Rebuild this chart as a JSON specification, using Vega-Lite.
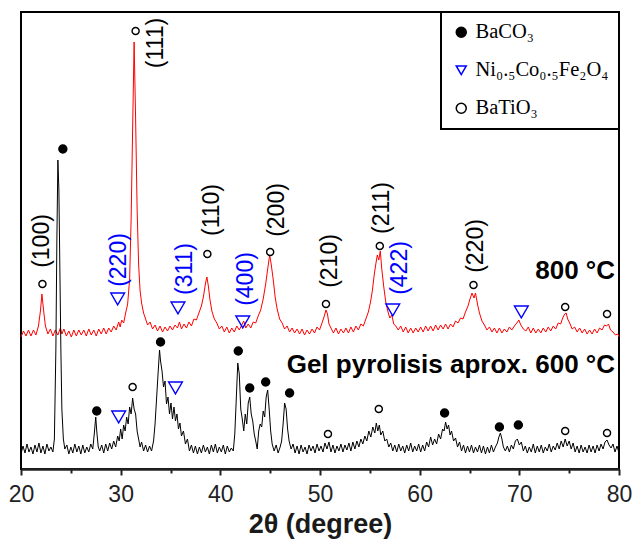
{
  "$schema": "https://vega.github.io/schema/vega-lite/v6.json",
  "width": 598,
  "height": 457,
  "autosize": {"type": "none"},
  "padding": {"left": 21, "top": 12, "right": 14, "bottom": 71},
  "background": "white",
  "config": {
    "view": {"stroke": "black", "strokeWidth": 2},
    "font": "Liberation Sans",
    "legend": {
      "orient": "top-right", "offset": 0, "padding": 10,
      "strokeColor": "black", "strokeWidth": 2, "fillColor": "white",
      "labelFont": "Liberation Serif", "labelFontSize": 20.5, "labelColor": "black",
      "rowPadding": 17, "labelOffset": 4, "symbolStrokeWidth": 1.5, "labelLimit": 300, "symbolSize": 100
    }
  },
  "datasets": {
    "red": [
      {"t":20.0,"i":132},{"t":20.25,"i":138},{"t":20.5,"i":133},{"t":20.75,"i":139},{"t":21.0,"i":133},{"t":21.25,"i":139},{"t":21.5,"i":134},{"t":21.75,"i":143},{"t":21.95,"i":158},{"t":22.1,"i":175},{"t":22.25,"i":160},{"t":22.45,"i":143},{"t":22.7,"i":135},{"t":22.95,"i":140},{"t":23.2,"i":133},{"t":23.45,"i":139},{"t":23.7,"i":134},{"t":23.95,"i":141},{"t":24.1,"i":135},{"t":24.3,"i":140},{"t":24.55,"i":133},{"t":24.8,"i":138},{"t":25.05,"i":132},{"t":25.3,"i":139},{"t":25.55,"i":133},{"t":25.8,"i":139},{"t":26.05,"i":134},{"t":26.3,"i":139},{"t":26.55,"i":133},{"t":26.8,"i":140},{"t":27.05,"i":134},{"t":27.3,"i":139},{"t":27.55,"i":133},{"t":27.8,"i":140},{"t":28.05,"i":135},{"t":28.3,"i":141},{"t":28.55,"i":135},{"t":28.8,"i":141},{"t":29.05,"i":137},{"t":29.3,"i":143},{"t":29.55,"i":139},{"t":29.8,"i":147},{"t":29.95,"i":142},{"t":30.1,"i":149},{"t":30.3,"i":146},{"t":30.5,"i":156},{"t":30.7,"i":165},{"t":30.9,"i":190},{"t":31.05,"i":250},{"t":31.2,"i":340},{"t":31.35,"i":427},{"t":31.5,"i":350},{"t":31.65,"i":260},{"t":31.8,"i":205},{"t":31.95,"i":178},{"t":32.1,"i":166},{"t":32.3,"i":156},{"t":32.5,"i":150},{"t":32.7,"i":144},{"t":32.95,"i":147},{"t":33.2,"i":140},{"t":33.45,"i":144},{"t":33.7,"i":138},{"t":33.95,"i":143},{"t":34.2,"i":137},{"t":34.45,"i":142},{"t":34.7,"i":138},{"t":34.95,"i":143},{"t":35.2,"i":139},{"t":35.45,"i":144},{"t":35.7,"i":141},{"t":35.9,"i":147},{"t":36.1,"i":140},{"t":36.35,"i":145},{"t":36.6,"i":141},{"t":36.85,"i":147},{"t":37.1,"i":143},{"t":37.35,"i":150},{"t":37.6,"i":149},{"t":37.85,"i":156},{"t":38.1,"i":163},{"t":38.3,"i":172},{"t":38.5,"i":185},{"t":38.65,"i":192},{"t":38.8,"i":183},{"t":38.95,"i":170},{"t":39.15,"i":158},{"t":39.4,"i":150},{"t":39.65,"i":146},{"t":39.9,"i":140},{"t":40.15,"i":143},{"t":40.4,"i":137},{"t":40.65,"i":142},{"t":40.9,"i":136},{"t":41.15,"i":141},{"t":41.4,"i":137},{"t":41.65,"i":143},{"t":41.9,"i":139},{"t":42.15,"i":144},{"t":42.35,"i":148},{"t":42.55,"i":141},{"t":42.8,"i":145},{"t":43.05,"i":141},{"t":43.3,"i":147},{"t":43.55,"i":146},{"t":43.8,"i":153},{"t":44.05,"i":159},{"t":44.3,"i":170},{"t":44.55,"i":185},{"t":44.75,"i":200},{"t":44.95,"i":214},{"t":45.1,"i":205},{"t":45.3,"i":190},{"t":45.5,"i":172},{"t":45.7,"i":160},{"t":45.95,"i":150},{"t":46.2,"i":146},{"t":46.45,"i":140},{"t":46.7,"i":143},{"t":46.95,"i":137},{"t":47.2,"i":141},{"t":47.45,"i":136},{"t":47.7,"i":140},{"t":47.95,"i":135},{"t":48.2,"i":140},{"t":48.45,"i":134},{"t":48.7,"i":139},{"t":48.95,"i":135},{"t":49.2,"i":140},{"t":49.45,"i":136},{"t":49.7,"i":142},{"t":49.95,"i":139},{"t":50.2,"i":146},{"t":50.4,"i":152},{"t":50.6,"i":159},{"t":50.75,"i":155},{"t":50.9,"i":145},{"t":51.1,"i":141},{"t":51.35,"i":136},{"t":51.6,"i":141},{"t":51.85,"i":135},{"t":52.1,"i":140},{"t":52.35,"i":136},{"t":52.6,"i":141},{"t":52.85,"i":136},{"t":53.1,"i":142},{"t":53.35,"i":137},{"t":53.6,"i":143},{"t":53.85,"i":139},{"t":54.1,"i":145},{"t":54.35,"i":143},{"t":54.6,"i":150},{"t":54.85,"i":157},{"t":55.05,"i":166},{"t":55.25,"i":178},{"t":55.45,"i":195},{"t":55.6,"i":205},{"t":55.75,"i":214},{"t":55.9,"i":209},{"t":56.05,"i":218},{"t":56.2,"i":200},{"t":56.4,"i":182},{"t":56.6,"i":167},{"t":56.8,"i":158},{"t":57.0,"i":151},{"t":57.2,"i":154},{"t":57.4,"i":145},{"t":57.6,"i":143},{"t":57.85,"i":139},{"t":58.1,"i":143},{"t":58.35,"i":137},{"t":58.6,"i":142},{"t":58.85,"i":136},{"t":59.1,"i":141},{"t":59.35,"i":136},{"t":59.6,"i":141},{"t":59.85,"i":137},{"t":60.1,"i":142},{"t":60.35,"i":137},{"t":60.6,"i":143},{"t":60.85,"i":138},{"t":61.1,"i":143},{"t":61.35,"i":138},{"t":61.6,"i":144},{"t":61.85,"i":139},{"t":62.1,"i":144},{"t":62.35,"i":140},{"t":62.6,"i":145},{"t":62.85,"i":140},{"t":63.1,"i":145},{"t":63.35,"i":142},{"t":63.6,"i":148},{"t":63.85,"i":146},{"t":64.1,"i":151},{"t":64.35,"i":150},{"t":64.6,"i":157},{"t":64.85,"i":163},{"t":65.05,"i":170},{"t":65.25,"i":176},{"t":65.45,"i":171},{"t":65.6,"i":176},{"t":65.8,"i":165},{"t":66.0,"i":156},{"t":66.25,"i":148},{"t":66.5,"i":144},{"t":66.75,"i":139},{"t":67.0,"i":142},{"t":67.25,"i":137},{"t":67.5,"i":141},{"t":67.75,"i":136},{"t":68.0,"i":141},{"t":68.25,"i":136},{"t":68.5,"i":140},{"t":68.75,"i":137},{"t":69.0,"i":142},{"t":69.25,"i":139},{"t":69.5,"i":143},{"t":69.75,"i":146},{"t":69.95,"i":149},{"t":70.15,"i":144},{"t":70.4,"i":140},{"t":70.65,"i":138},{"t":70.9,"i":142},{"t":71.15,"i":136},{"t":71.4,"i":141},{"t":71.65,"i":136},{"t":71.9,"i":140},{"t":72.15,"i":136},{"t":72.4,"i":141},{"t":72.65,"i":137},{"t":72.9,"i":142},{"t":73.15,"i":138},{"t":73.4,"i":143},{"t":73.65,"i":140},{"t":73.9,"i":146},{"t":74.15,"i":145},{"t":74.35,"i":151},{"t":74.55,"i":155},{"t":74.7,"i":156},{"t":74.85,"i":150},{"t":75.05,"i":146},{"t":75.3,"i":140},{"t":75.55,"i":142},{"t":75.8,"i":137},{"t":76.05,"i":141},{"t":76.3,"i":136},{"t":76.55,"i":140},{"t":76.8,"i":135},{"t":77.05,"i":139},{"t":77.3,"i":135},{"t":77.55,"i":140},{"t":77.8,"i":136},{"t":78.05,"i":141},{"t":78.3,"i":139},{"t":78.55,"i":144},{"t":78.75,"i":143},{"t":78.95,"i":145},{"t":79.15,"i":139},{"t":79.4,"i":137},{"t":79.65,"i":134},{"t":79.9,"i":135},{"t":80.0,"i":132}
    ],
    "black": [
      {"t":20.0,"i":15},{"t":20.2,"i":23},{"t":20.4,"i":16},{"t":20.6,"i":25},{"t":20.8,"i":17},{"t":21.0,"i":22},{"t":21.2,"i":15},{"t":21.4,"i":24},{"t":21.6,"i":17},{"t":21.8,"i":26},{"t":22.0,"i":16},{"t":22.2,"i":23},{"t":22.4,"i":15},{"t":22.6,"i":25},{"t":22.8,"i":18},{"t":23.0,"i":22},{"t":23.2,"i":17},{"t":23.35,"i":30},{"t":23.5,"i":120},{"t":23.6,"i":230},{"t":23.7,"i":309},{"t":23.8,"i":280},{"t":23.9,"i":200},{"t":24.0,"i":120},{"t":24.1,"i":60},{"t":24.25,"i":30},{"t":24.4,"i":20},{"t":24.6,"i":24},{"t":24.8,"i":15},{"t":25.0,"i":22},{"t":25.2,"i":16},{"t":25.4,"i":25},{"t":25.6,"i":17},{"t":25.8,"i":23},{"t":26.0,"i":15},{"t":26.2,"i":24},{"t":26.4,"i":16},{"t":26.6,"i":22},{"t":26.8,"i":17},{"t":27.0,"i":25},{"t":27.2,"i":20},{"t":27.35,"i":35},{"t":27.5,"i":52},{"t":27.6,"i":38},{"t":27.75,"i":22},{"t":27.9,"i":18},{"t":28.1,"i":24},{"t":28.3,"i":16},{"t":28.5,"i":25},{"t":28.7,"i":18},{"t":28.9,"i":26},{"t":29.1,"i":20},{"t":29.3,"i":28},{"t":29.5,"i":22},{"t":29.7,"i":33},{"t":29.85,"i":28},{"t":30.0,"i":40},{"t":30.15,"i":30},{"t":30.3,"i":44},{"t":30.45,"i":38},{"t":30.6,"i":52},{"t":30.75,"i":45},{"t":30.9,"i":62},{"t":31.05,"i":55},{"t":31.2,"i":71},{"t":31.35,"i":60},{"t":31.5,"i":55},{"t":31.65,"i":38},{"t":31.8,"i":30},{"t":31.95,"i":22},{"t":32.1,"i":27},{"t":32.3,"i":18},{"t":32.5,"i":24},{"t":32.7,"i":17},{"t":32.9,"i":23},{"t":33.1,"i":18},{"t":33.3,"i":28},{"t":33.45,"i":45},{"t":33.6,"i":70},{"t":33.75,"i":95},{"t":33.9,"i":119},{"t":34.0,"i":108},{"t":34.15,"i":98},{"t":34.3,"i":82},{"t":34.45,"i":88},{"t":34.6,"i":65},{"t":34.75,"i":72},{"t":34.9,"i":55},{"t":35.05,"i":66},{"t":35.2,"i":50},{"t":35.35,"i":62},{"t":35.5,"i":48},{"t":35.65,"i":55},{"t":35.8,"i":40},{"t":35.95,"i":46},{"t":36.1,"i":33},{"t":36.3,"i":38},{"t":36.5,"i":25},{"t":36.7,"i":30},{"t":36.9,"i":18},{"t":37.1,"i":24},{"t":37.3,"i":16},{"t":37.5,"i":23},{"t":37.7,"i":15},{"t":37.9,"i":22},{"t":38.1,"i":16},{"t":38.3,"i":24},{"t":38.5,"i":17},{"t":38.7,"i":22},{"t":38.9,"i":15},{"t":39.1,"i":24},{"t":39.3,"i":17},{"t":39.5,"i":25},{"t":39.7,"i":16},{"t":39.9,"i":22},{"t":40.1,"i":17},{"t":40.3,"i":24},{"t":40.5,"i":15},{"t":40.7,"i":23},{"t":40.9,"i":17},{"t":41.1,"i":21},{"t":41.3,"i":18},{"t":41.45,"i":35},{"t":41.6,"i":70},{"t":41.75,"i":106},{"t":41.9,"i":95},{"t":42.05,"i":60},{"t":42.2,"i":50},{"t":42.35,"i":38},{"t":42.5,"i":55},{"t":42.65,"i":45},{"t":42.8,"i":66},{"t":42.95,"i":72},{"t":43.1,"i":55},{"t":43.25,"i":48},{"t":43.4,"i":35},{"t":43.55,"i":28},{"t":43.7,"i":20},{"t":43.85,"i":38},{"t":44.0,"i":45},{"t":44.15,"i":42},{"t":44.3,"i":58},{"t":44.45,"i":52},{"t":44.6,"i":72},{"t":44.75,"i":79},{"t":44.9,"i":60},{"t":45.05,"i":38},{"t":45.2,"i":25},{"t":45.4,"i":18},{"t":45.6,"i":24},{"t":45.8,"i":16},{"t":46.0,"i":22},{"t":46.15,"i":28},{"t":46.3,"i":45},{"t":46.45,"i":66},{"t":46.6,"i":60},{"t":46.75,"i":40},{"t":46.9,"i":28},{"t":47.1,"i":20},{"t":47.3,"i":25},{"t":47.5,"i":16},{"t":47.7,"i":23},{"t":47.9,"i":15},{"t":48.1,"i":24},{"t":48.3,"i":17},{"t":48.5,"i":22},{"t":48.7,"i":15},{"t":48.9,"i":24},{"t":49.1,"i":18},{"t":49.3,"i":23},{"t":49.5,"i":16},{"t":49.7,"i":25},{"t":49.9,"i":18},{"t":50.1,"i":23},{"t":50.3,"i":17},{"t":50.5,"i":26},{"t":50.7,"i":20},{"t":50.9,"i":27},{"t":51.1,"i":17},{"t":51.3,"i":24},{"t":51.5,"i":16},{"t":51.7,"i":23},{"t":51.9,"i":18},{"t":52.1,"i":25},{"t":52.3,"i":17},{"t":52.5,"i":24},{"t":52.7,"i":19},{"t":52.9,"i":26},{"t":53.1,"i":18},{"t":53.3,"i":27},{"t":53.5,"i":20},{"t":53.7,"i":28},{"t":53.9,"i":22},{"t":54.1,"i":30},{"t":54.3,"i":25},{"t":54.5,"i":33},{"t":54.7,"i":28},{"t":54.9,"i":38},{"t":55.1,"i":32},{"t":55.3,"i":42},{"t":55.5,"i":36},{"t":55.65,"i":46},{"t":55.8,"i":38},{"t":55.95,"i":44},{"t":56.1,"i":34},{"t":56.3,"i":38},{"t":56.5,"i":28},{"t":56.7,"i":30},{"t":56.9,"i":22},{"t":57.1,"i":26},{"t":57.3,"i":18},{"t":57.5,"i":24},{"t":57.7,"i":17},{"t":57.9,"i":25},{"t":58.1,"i":18},{"t":58.3,"i":23},{"t":58.5,"i":16},{"t":58.7,"i":24},{"t":58.9,"i":18},{"t":59.1,"i":26},{"t":59.3,"i":17},{"t":59.5,"i":23},{"t":59.7,"i":18},{"t":59.9,"i":25},{"t":60.1,"i":17},{"t":60.3,"i":24},{"t":60.5,"i":18},{"t":60.7,"i":27},{"t":60.9,"i":22},{"t":61.1,"i":32},{"t":61.3,"i":24},{"t":61.5,"i":30},{"t":61.7,"i":25},{"t":61.9,"i":35},{"t":62.1,"i":30},{"t":62.3,"i":40},{"t":62.45,"i":38},{"t":62.6,"i":47},{"t":62.75,"i":40},{"t":62.9,"i":44},{"t":63.05,"i":34},{"t":63.2,"i":38},{"t":63.4,"i":28},{"t":63.6,"i":31},{"t":63.8,"i":22},{"t":64.0,"i":27},{"t":64.2,"i":18},{"t":64.4,"i":24},{"t":64.6,"i":16},{"t":64.8,"i":23},{"t":65.0,"i":17},{"t":65.2,"i":24},{"t":65.4,"i":16},{"t":65.6,"i":22},{"t":65.8,"i":17},{"t":66.0,"i":24},{"t":66.2,"i":16},{"t":66.4,"i":23},{"t":66.6,"i":15},{"t":66.8,"i":22},{"t":67.0,"i":16},{"t":67.2,"i":24},{"t":67.4,"i":17},{"t":67.6,"i":22},{"t":67.8,"i":26},{"t":67.95,"i":32},{"t":68.1,"i":36},{"t":68.25,"i":30},{"t":68.4,"i":22},{"t":68.6,"i":18},{"t":68.8,"i":23},{"t":69.0,"i":17},{"t":69.2,"i":24},{"t":69.4,"i":20},{"t":69.6,"i":28},{"t":69.8,"i":30},{"t":70.0,"i":24},{"t":70.2,"i":27},{"t":70.4,"i":18},{"t":70.6,"i":23},{"t":70.8,"i":16},{"t":71.0,"i":22},{"t":71.2,"i":17},{"t":71.4,"i":25},{"t":71.6,"i":16},{"t":71.8,"i":23},{"t":72.0,"i":17},{"t":72.2,"i":24},{"t":72.4,"i":16},{"t":72.6,"i":22},{"t":72.8,"i":18},{"t":73.0,"i":25},{"t":73.2,"i":17},{"t":73.4,"i":23},{"t":73.6,"i":19},{"t":73.8,"i":26},{"t":74.0,"i":20},{"t":74.2,"i":28},{"t":74.4,"i":22},{"t":74.6,"i":30},{"t":74.8,"i":23},{"t":75.0,"i":28},{"t":75.2,"i":20},{"t":75.4,"i":26},{"t":75.6,"i":17},{"t":75.8,"i":23},{"t":76.0,"i":16},{"t":76.2,"i":24},{"t":76.4,"i":17},{"t":76.6,"i":22},{"t":76.8,"i":16},{"t":77.0,"i":24},{"t":77.2,"i":17},{"t":77.4,"i":23},{"t":77.6,"i":16},{"t":77.8,"i":24},{"t":78.0,"i":18},{"t":78.2,"i":25},{"t":78.4,"i":20},{"t":78.6,"i":27},{"t":78.8,"i":29},{"t":79.0,"i":24},{"t":79.2,"i":21},{"t":79.4,"i":25},{"t":79.6,"i":17},{"t":79.8,"i":23},{"t":80.0,"i":16}
    ],
    "markers": [
      {"t":22.15,"i":185,"p":"BaTiO₃"},{"t":31.5,"i":438,"p":"BaTiO₃"},{"t":24.2,"i":320,"p":"BaCO₃"},{"t":29.7,"i":170,"p":"Ni₀.₅Co₀.₅Fe₂O₄"},{"t":35.75,"i":161,"p":"Ni₀.₅Co₀.₅Fe₂O₄"},{"t":38.7,"i":215,"p":"BaTiO₃"},{"t":42.25,"i":147,"p":"Ni₀.₅Co₀.₅Fe₂O₄"},{"t":45.0,"i":217,"p":"BaTiO₃"},{"t":50.6,"i":165,"p":"BaTiO₃"},{"t":56.0,"i":223,"p":"BaTiO₃"},{"t":57.3,"i":159,"p":"Ni₀.₅Co₀.₅Fe₂O₄"},{"t":65.4,"i":184,"p":"BaTiO₃"},{"t":70.2,"i":157,"p":"Ni₀.₅Co₀.₅Fe₂O₄"},{"t":74.6,"i":162,"p":"BaTiO₃"},{"t":78.8,"i":155,"p":"BaTiO₃"},
      {"t":27.6,"i":58,"p":"BaCO₃"},{"t":29.8,"i":52,"p":"Ni₀.₅Co₀.₅Fe₂O₄"},{"t":31.2,"i":82,"p":"BaTiO₃"},{"t":34.0,"i":127,"p":"BaCO₃"},{"t":35.5,"i":81,"p":"Ni₀.₅Co₀.₅Fe₂O₄"},{"t":41.8,"i":118,"p":"BaCO₃"},{"t":42.95,"i":81,"p":"BaCO₃"},{"t":44.55,"i":87,"p":"BaCO₃"},{"t":46.95,"i":76,"p":"BaCO₃"},{"t":50.8,"i":35,"p":"BaTiO₃"},{"t":55.9,"i":60,"p":"BaTiO₃"},{"t":62.5,"i":56,"p":"BaCO₃"},{"t":68.0,"i":42,"p":"BaCO₃"},{"t":69.9,"i":44,"p":"BaCO₃"},{"t":74.6,"i":38,"p":"BaTiO₃"},{"t":78.8,"i":36,"p":"BaTiO₃"}
    ],
    "hkl": [
      {"t":22.1,"i":228,"label":"(100)","g":"BaTiO3"},
      {"t":33.5,"i":426,"label":"(111)","g":"BaTiO3"},
      {"t":29.8,"i":209,"label":"(220)","g":"ferrite"},
      {"t":36.5,"i":200,"label":"(311)","g":"ferrite"},
      {"t":39.2,"i":259,"label":"(110)","g":"BaTiO3"},
      {"t":42.6,"i":190,"label":"(400)","g":"ferrite"},
      {"t":45.7,"i":259,"label":"(200)","g":"BaTiO3"},
      {"t":51.0,"i":208,"label":"(210)","g":"BaTiO3"},
      {"t":56.2,"i":261,"label":"(211)","g":"BaTiO3"},
      {"t":58.0,"i":201,"label":"(422)","g":"ferrite"},
      {"t":65.7,"i":223,"label":"(220)","g":"BaTiO3"}
    ],
    "notes": [
      {"t":79.6,"i":198,"label":"800 °C"},
      {"t":79.6,"i":104,"label":"Gel pyrolisis aprox. 600 °C"}
    ]
  },
  "layer": [
    {
      "data": {"name": "red"},
      "mark": {"type": "line", "color": "#ff0000", "strokeWidth": 1},
      "encoding": {
        "x": {"field": "t", "type": "quantitative",
          "scale": {"domain": [20, 80], "nice": false, "zero": false},
          "axis": {
            "title": "2θ (degree)", "values": [20,25,30,35,40,45,50,55,60,65,70,75,80],
            "labelExpr": "datum.value % 10 === 0 ? datum.label : ''",
            "grid": false, "labelFlush": false, "labelOverlap": false,
            "domainColor": "#222", "domainWidth": 2.5,
            "tickColor": "#222", "tickWidth": 2,
            "tickSize": {"condition": {"test": "datum.value % 10 === 0", "value": 6}, "value": 4},
            "labelFontSize": 23, "labelColor": "#222", "labelPadding": 8, "labelFont": "Liberation Sans",
            "titleFontSize": 27, "titleFontWeight": "bold", "titleColor": "#1a1a1a", "titlePadding": 5, "titleFont": "Liberation Sans"
          }},
        "y": {"field": "i", "type": "quantitative", "scale": {"domain": [0, 457], "nice": false, "zero": false}, "axis": null}
      }
    },
    {
      "data": {"name": "black"},
      "mark": {"type": "line", "color": "#000000", "strokeWidth": 1},
      "encoding": {
        "x": {"field": "t", "type": "quantitative"},
        "y": {"field": "i", "type": "quantitative", "axis": null}
      }
    },
    {
      "data": {"name": "markers"},
      "mark": {"type": "point", "strokeWidth": 1.4, "opacity": 1},
      "encoding": {
        "x": {"field": "t", "type": "quantitative"},
        "y": {"field": "i", "type": "quantitative", "axis": null},
        "shape": {"field": "p", "type": "nominal",
          "scale": {"domain": ["BaCO₃", "Ni₀.₅Co₀.₅Fe₂O₄", "BaTiO₃"], "range": ["circle", "triangle-down", "circle"]},
          "legend": {"title": null, "encode": {"symbols": {"update": {"size": {"signal": "datum.value === 'Ni₀.₅Co₀.₅Fe₂O₄' ? 110 : (datum.value === 'BaCO₃' ? 36 : 24)"}}}}}},
        "fill": {"field": "p", "type": "nominal", "title": null,
          "scale": {"domain": ["BaCO₃", "Ni₀.₅Co₀.₅Fe₂O₄", "BaTiO₃"], "range": ["#000000", "transparent", "transparent"]}},
        "stroke": {"field": "p", "type": "nominal", "title": null,
          "scale": {"domain": ["BaCO₃", "Ni₀.₅Co₀.₅Fe₂O₄", "BaTiO₃"], "range": ["#000000", "#0000ff", "#000000"]}},
        "size": {"condition": [
            {"test": "datum.p === 'Ni₀.₅Co₀.₅Fe₂O₄'", "value": 190},
            {"test": "datum.p === 'BaTiO₃'", "value": 50}
          ], "value": 64}
      }
    },
    {
      "data": {"name": "hkl"},
      "mark": {"type": "text", "angle": 270, "align": "center", "baseline": "middle", "fontSize": 23, "font": "Liberation Sans"},
      "encoding": {
        "x": {"field": "t", "type": "quantitative"},
        "y": {"field": "i", "type": "quantitative", "axis": null},
        "text": {"field": "label"},
        "color": {"field": "g", "type": "nominal", "legend": null,
          "scale": {"domain": ["BaTiO3", "ferrite"], "range": ["#000000", "#0000ff"]}}
      }
    },
    {
      "data": {"name": "notes"},
      "mark": {"type": "text", "align": "right", "baseline": "middle", "fontSize": 26, "fontWeight": "bold", "font": "Liberation Sans", "color": "#000000"},
      "encoding": {
        "x": {"field": "t", "type": "quantitative"},
        "y": {"field": "i", "type": "quantitative", "axis": null},
        "text": {"field": "label"}
      }
    }
  ]
}
